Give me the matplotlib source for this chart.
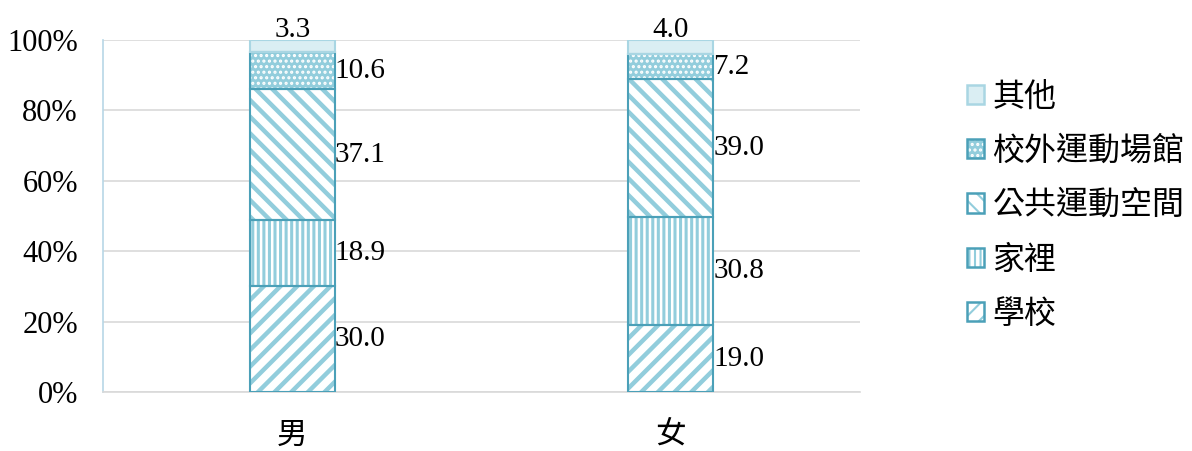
import matplotlib
matplotlib.use("Agg")
import matplotlib.pyplot as plt
import numpy as np
from matplotlib.patches import Patch
from matplotlib.legend_handler import HandlerTuple

categories = ["男", "女"]
series_names = ["學校", "家裡", "公共運動空間", "校外運動場館", "其他"]
school = [30.0, 19.0]
home = [18.9, 30.8]
public_space = [37.1, 39.0]
outside_venue = [10.6, 7.2]
other = [3.3, 4.0]
yticks = [0, 20, 40, 60, 80, 100]
ytick_labels = ["0%", "20%", "40%", "60%", "80%", "100%"]

series = [school, home, public_space, outside_venue, other]

serif = ["Liberation Serif", "DejaVu Serif"]
cjk = ["Noto Sans CJK TC", "DejaVu Sans"]

fig = plt.figure(figsize=(11.92, 4.51), dpi=100)
ax = fig.add_axes([0.0864, 0.1308, 0.7215 - 0.0864, 0.9113 - 0.1308])

stripe = "#92CDDC"
edge = "#4BA0B8"
x = np.arange(len(categories))
width = 0.225

styles = [
    dict(face="white", hatch="//", hcol=stripe, hlw=3.2, ecol=edge),
    dict(face="white", hatch="|||", hcol=stripe, hlw=2.2, ecol=edge),
    dict(face="white", hatch="\\\\", hcol=stripe, hlw=3.2, ecol=edge),
    dict(face=stripe, hatch="...", hcol="white", hlw=1.5, ecol=edge),
    dict(face="#DAEEF3", hatch=None, hcol=None, hlw=1.0, ecol="#A9D6E3"),
]

bottom = np.zeros(len(categories))
handles = []
for vals, st, name in zip(series, styles, series_names):
    vals = np.array(vals)
    if st["hatch"]:
        plt.rcParams["hatch.linewidth"] = st["hlw"]
        ax.bar(x, vals, width, bottom=bottom, facecolor=st["face"],
               edgecolor=st["hcol"], hatch=st["hatch"], linewidth=0, zorder=2)
    else:
        ax.bar(x, vals, width, bottom=bottom, facecolor=st["face"],
               linewidth=0, zorder=2)
    ax.bar(x, vals, width, bottom=bottom, facecolor="none",
           edgecolor=st["ecol"], linewidth=1.5, zorder=3)
    plt.rcParams["hatch.linewidth"] = st["hlw"] * 0.6
    if st["hatch"]:
        h1 = Patch(facecolor=st["face"], edgecolor=st["hcol"],
                   hatch=st["hatch"], linewidth=0)
    else:
        h1 = Patch(facecolor=st["face"], linewidth=0)
    h2 = Patch(facecolor="none", edgecolor=st["ecol"], linewidth=1.8)
    handles.append((h1, h2))
    bottom = bottom + vals

# data labels
bottom = np.zeros(len(categories))
for si, vals in enumerate(series):
    for i, v in enumerate(vals):
        if si == len(series) - 1:
            ax.text(x[i], 99.2, f"{v:.1f}", ha="center", va="bottom",
                    fontsize=21, family=serif, zorder=5)
        else:
            yc = bottom[i] + v / 2
            ax.text(x[i] + width / 2, yc, f"{v:.1f}", ha="left", va="center",
                    fontsize=21, family=serif, zorder=5)
    bottom = bottom + np.array(vals)

ax.set_xlim(-0.5, 1.5)
ax.set_ylim(0, 100)
ax.set_yticks(yticks)
ax.set_yticklabels(ytick_labels, family=serif, fontsize=22)
ax.set_xticks(x)
ax.set_xticklabels(categories, family=cjk, fontsize=22)
ax.tick_params(axis="y", length=0, pad=18)
ax.tick_params(axis="x", length=0, pad=20)
ax.yaxis.grid(True, color="#D9D9D9", linewidth=1.2, zorder=0)
ax.set_axisbelow(True)
for s in ["top", "right"]:
    ax.spines[s].set_visible(False)
ax.spines["left"].set_color("#B7D7E6")
ax.spines["bottom"].set_color("#D9D9D9")
ax.spines["left"].set_linewidth(1.2)
ax.spines["bottom"].set_linewidth(1.2)

plt.rcParams["hatch.linewidth"] = 1.5
leg = fig.legend(handles[::-1], series_names[::-1], loc="center left",
                 bbox_to_anchor=(0.787, 0.545), frameon=False,
                 prop={"family": cjk, "size": 23}, handlelength=0.55,
                 handleheight=0.55, handletextpad=0.25, labelspacing=0.7,
                 handler_map={tuple: HandlerTuple(ndivide=1)})

fig.savefig("out.png", dpi=100)
